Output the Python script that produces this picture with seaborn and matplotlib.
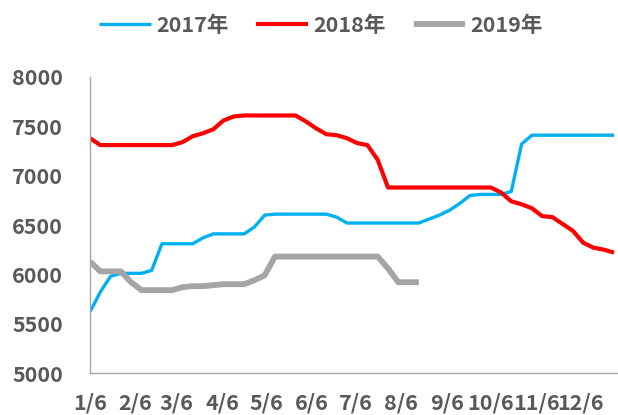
import numpy as np
import pandas as pd
import matplotlib
matplotlib.use("Agg")
import matplotlib.pyplot as plt
import matplotlib.dates as mdates
import seaborn as sns

# ---------------- data ----------------
week_start = "2017-01-06"
series_names = ["2017年", "2018年", "2019年"]
tick_labels = ["1/6", "2/6", "3/6", "4/6", "5/6", "6/6",
               "7/6", "8/6", "9/6", "10/6", "11/6", "12/6"]
y_ticks = [5000, 5500, 6000, 6500, 7000, 7500, 8000]

v2017 = [5620, 5820, 5980, 6010, 6010, 6010, 6040, 6310, 6310, 6310,
         6310, 6370, 6410, 6410, 6410, 6410, 6480, 6600, 6610, 6610,
         6610, 6610, 6610, 6610, 6580, 6520, 6520, 6520, 6520, 6520,
         6520, 6520, 6520, 6560, 6600, 6650, 6720, 6800, 6810, 6810,
         6810, 6840, 7320, 7410, 7410, 7410, 7410, 7410, 7410, 7410,
         7410, 7410]
v2018 = [7380, 7310, 7310, 7310, 7310, 7310, 7310, 7310, 7310, 7340,
         7400, 7430, 7470, 7560, 7600, 7610, 7610, 7610, 7610, 7610,
         7610, 7550, 7480, 7420, 7410, 7380, 7330, 7310, 7160, 6880,
         6880, 6880, 6880, 6880, 6880, 6880, 6880, 6880, 6880, 6880,
         6830, 6740, 6710, 6670, 6590, 6580, 6510, 6440, 6320, 6270,
         6250, 6220]
v2019 = [6130, 6030, 6030, 6030, 5920, 5840, 5840, 5840, 5840, 5870,
         5880, 5880, 5890, 5900, 5900, 5900, 5940, 5990, 6180, 6180,
         6180, 6180, 6180, 6180, 6180, 6180, 6180, 6180, 6180, 6060,
         5920, 5920, 5920]

colors = {"2017年": "#00B0F0", "2018年": "#FF0000", "2019年": "#A5A5A5"}
widths = {"2017年": 2.4, "2018年": 3.0, "2019年": 4.2}

frames = []
for name, vals in zip(series_names, [v2017, v2018, v2019]):
    d = pd.date_range(week_start, periods=len(vals), freq="7D")
    frames.append(pd.DataFrame({"date": d, "value": vals, "series": name}))
df = pd.concat(frames, ignore_index=True)

# ---------------- style ----------------
sns.set_style("white")
plt.rcParams["font.family"] = ["Noto Sans CJK SC", "DejaVu Sans"]
text_color = "#595959"
axis_color = "#A6A6A6"
fs = 15.5

fig = plt.figure(figsize=(6.18, 4.15), dpi=100)
ax = fig.add_axes([90 / 618, 42 / 415, 527 / 618, 296 / 415])

for name in series_names:
    sub = df[df["series"] == name]
    sns.lineplot(data=sub, x="date", y="value", ax=ax, color=colors[name],
                 linewidth=widths[name], label=name, legend=False,
                 solid_joinstyle="round", solid_capstyle="butt")

start = pd.Timestamp(week_start)
ax.set_xlim(start, start + pd.Timedelta(days=359))
ax.set_ylim(5000, 8000)

tick_dates = [pd.Timestamp(2017, m, 6) for m in range(1, 13)]
ax.set_xticks(tick_dates)
ax.set_xticklabels(tick_labels)
ax.set_yticks(y_ticks)
ax.set_yticklabels([str(v) for v in y_ticks])

ax.set_xlabel("")
ax.set_ylabel("")
for s in ["top", "right"]:
    ax.spines[s].set_visible(False)
for s in ["left", "bottom"]:
    ax.spines[s].set_color(axis_color)
    ax.spines[s].set_linewidth(1.0)

ax.tick_params(axis="y", direction="out", length=5.8, width=1.0,
               color=axis_color, pad=13.5, labelsize=fs, labelcolor=text_color)
ax.tick_params(axis="x", direction="out", length=5.8, width=1.0,
               color=axis_color, pad=8, labelsize=fs, labelcolor=text_color)
for lab in ax.get_xticklabels() + ax.get_yticklabels():
    lab.set_fontweight("bold")

handles, labels = ax.get_legend_handles_labels()
fig.legend(handles, labels, loc="center", bbox_to_anchor=(321 / 618, 1 - 25.5 / 415),
           ncol=3, frameon=False, handlelength=2.4, handletextpad=0.25,
           columnspacing=1.3, labelcolor=text_color,
           prop={"size": fs, "weight": "bold"})

fig.savefig("out.png", dpi=100)
